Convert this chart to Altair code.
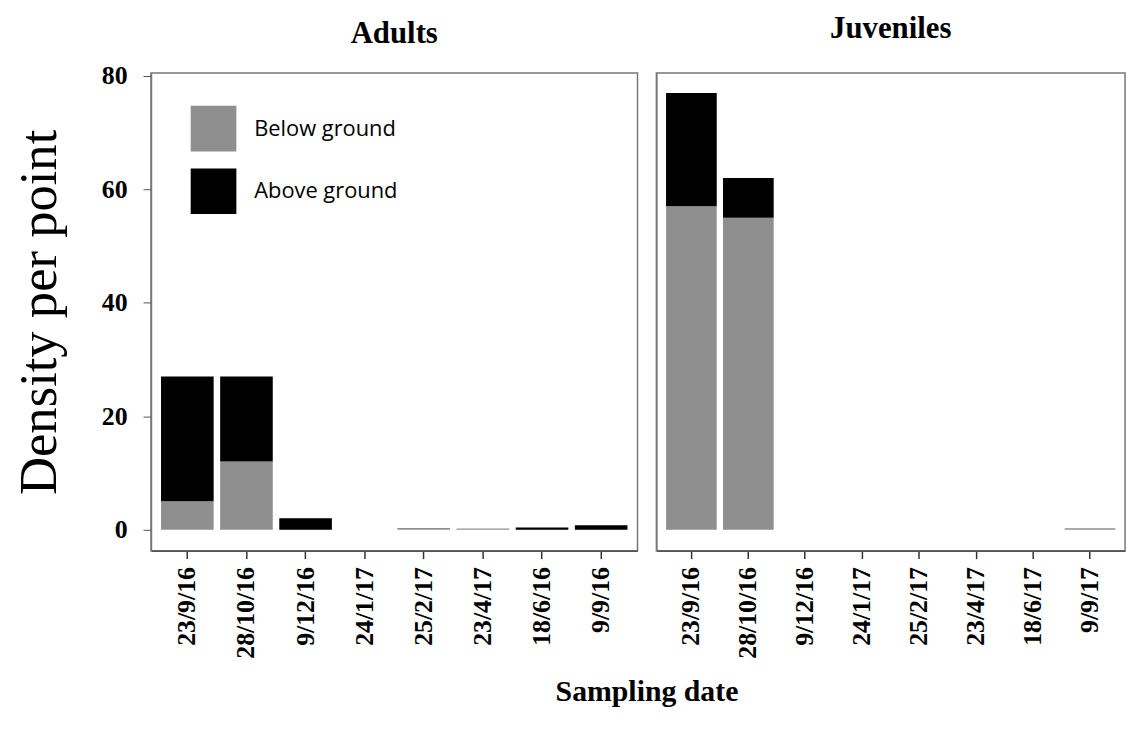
import altair as alt
import pandas as pd

adult_dates = ["23/9/16", "28/10/16", "9/12/16", "24/1/17", "25/2/17", "23/4/17", "18/6/16", "9/9/16"]
juv_dates = ["23/9/16", "28/10/16", "9/12/16", "24/1/17", "25/2/17", "23/4/17", "18/6/17", "9/9/17"]

adult_below = [5, 12, 0, 0, 0.3, 0.2, 0.0, 0.0]
adult_above = [22, 15, 2, 0, 0.0, 0.0, 0.4, 0.8]
juv_below = [57, 55, 0, 0, 0, 0, 0, 0.25]
juv_above = [20, 7, 0, 0, 0, 0, 0, 0]

groups = ["Below ground", "Above ground"]
colors = ["#8f8f8f", "#000000"]
y_ticks = [0, 20, 40, 60, 80]

SERIF = "Liberation Serif"
SANS = "Open Sans"


def make_df(dates, below, above):
    rows = []
    for d, b, a in zip(dates, below, above):
        rows.append({"date": d, "group": groups[0], "value": b, "ord": 0})
        rows.append({"date": d, "group": groups[1], "value": a, "ord": 1})
    return pd.DataFrame(rows)


def panel(df, dates, title, show_y, show_legend, width, title_offset):
    legend = None
    if show_legend:
        legend = alt.Legend(
            title=None, orient="none", legendX=40, legendY=33, padding=0,
            symbolType="square", symbolSize=2116, symbolStrokeWidth=0,
            symbolOpacity=1, labelFont=SANS, labelFontSize=22, labelColor="black",
            labelOffset=18, rowPadding=17,
        )
    if show_y:
        yaxis = alt.Axis(values=y_ticks, title="Density per point", grid=False,
                         labelFont=SERIF, labelFontWeight="bold", labelFontSize=26,
                         labelColor="black", labelPadding=16, tickSize=8,
                         tickColor="#555", domainColor="#777", domainWidth=1.5,
                         titleFont=SERIF, titleFontWeight="normal", titleFontSize=53,
                         titleColor="black", titlePadding=35)
    else:
        yaxis = alt.Axis(values=y_ticks, title=None, grid=False, labels=False,
                         ticks=False, domainColor="#777", domainWidth=1.5)
    return alt.Chart(df).mark_bar().encode(
        x=alt.X("date:N", sort=dates, title=None,
                scale=alt.Scale(paddingInner=0.11, paddingOuter=0.17),
                axis=alt.Axis(labelAngle=-90, labelFont=SERIF, labelFontWeight="bold",
                              labelFontSize=26, labelColor="black", labelPadding=8,
                              tickSize=8, tickColor="#333", tickWidth=1.5,
                              domainColor="#555", domainWidth=1.5)),
        y=alt.Y("value:Q", stack="zero",
                scale=alt.Scale(domain=[-3.7, 80.5], nice=False, zero=False),
                axis=yaxis),
        color=alt.Color("group:N", scale=alt.Scale(domain=groups, range=colors),
                        legend=legend),
        order=alt.Order("ord:Q"),
    ).properties(
        width=width, height=481,
        title=alt.TitleParams(title, font=SERIF, fontWeight="bold", fontSize=31,
                              color="black", offset=title_offset, frame="group"),
    )


left = panel(make_df(adult_dates, adult_below, adult_above), adult_dates, "Adults", True, True, 490, 13)
right = panel(make_df(juv_dates, juv_below, juv_above), juv_dates, "Juveniles", False, False, 472, 28)

chart = alt.hconcat(left, right, spacing=17).properties(
    title=alt.TitleParams("Sampling date", orient="bottom", anchor="middle",
                          font=SERIF, fontWeight="bold", fontSize=30, color="black",
                          offset=18, dx=78),
    padding={"top": 2, "left": 5, "right": 5, "bottom": 5},
).configure_view(stroke="#777", strokeWidth=1.5).configure_concat(spacing=17)

chart.save("out.html", embed_options={"renderer": "svg", "actions": False})
